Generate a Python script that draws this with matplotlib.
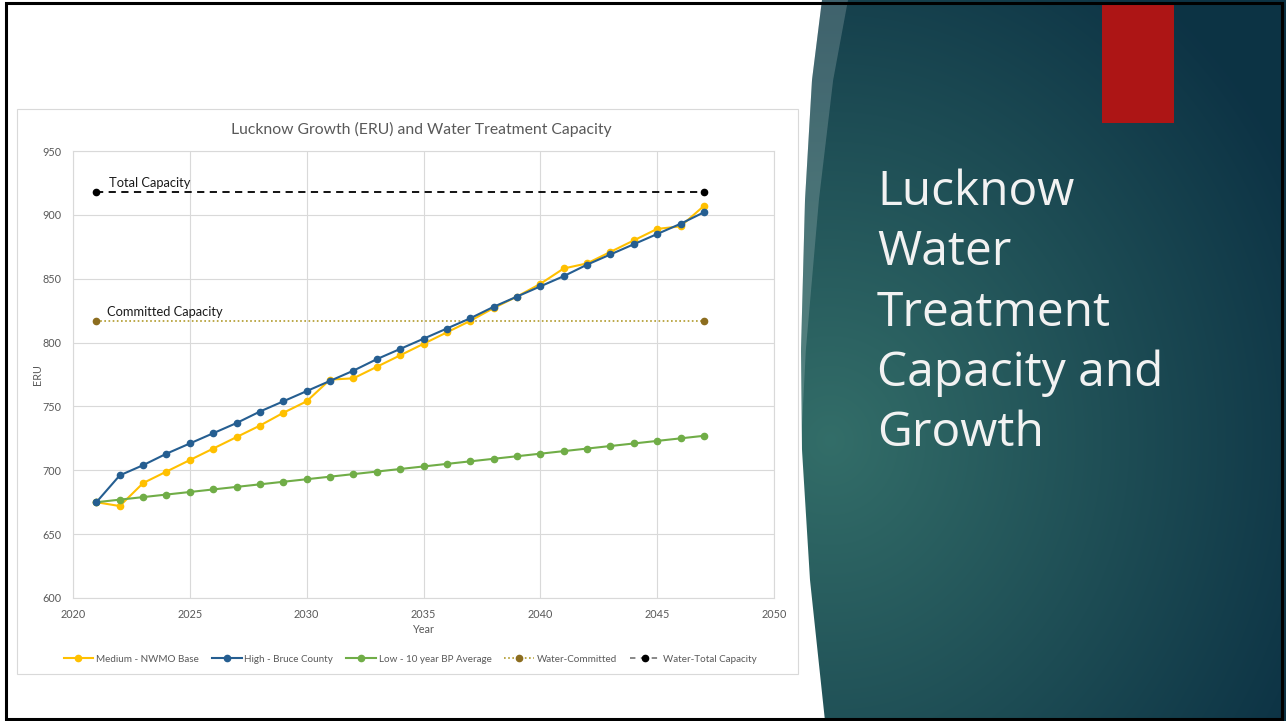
import numpy as np
import matplotlib.pyplot as plt
from matplotlib.patches import Rectangle, Polygon
from matplotlib.lines import Line2D

years = list(range(2021, 2048))
medium = [675, 672, 690, 699, 708, 717, 726, 735, 745, 754, 771, 772, 781, 790,
          799, 808, 817, 827, 836, 846, 858, 862, 871, 880, 889, 891, 907]
high = [675, 696, 704, 713, 721, 729, 737, 746, 754, 762, 770, 778, 787, 795,
        803, 811, 819, 828, 836, 844, 852, 861, 869, 877, 885, 893, 902]
low = [675, 677, 679, 681, 683, 685, 687, 689, 691, 693, 695, 697, 699, 701,
       703, 705, 707, 709, 711, 713, 715, 717, 719, 721, 723, 725, 727]
cap_years = [2021, 2047]
committed = [817, 817]
total = [918, 918]

labels = ['Medium - NWMO Base', 'High - Bruce County', 'Low - 10 year BP Average',
          'Water-Committed', 'Water-Total Capacity']
title_lines = ['Lucknow', 'Water', 'Treatment', 'Capacity and', 'Growth']

W, H = 1286, 721
fig = plt.figure(figsize=(W / 100, H / 100), dpi=100)
fig.patch.set_facecolor('white')

# slide background in pixel coordinates
bg = fig.add_axes([0, 0, 1, 1], zorder=0)
bg.set_xlim(0, W)
bg.set_ylim(H, 0)
bg.axis('off')

yy = np.linspace(0, H, 200)
outer = np.interp(yy, [0, 80, 200, 350, 450, 580, 721], [822, 812, 805, 801, 802, 810, 825])
band = np.clip(26 * (1 - yy / 430), 0, None)
inner = outer + band

# gradient teal panel
gx, gy = np.meshgrid(np.arange(780, W), np.arange(0, H))
d = np.sqrt(((gx - 830) / 1.0) ** 2 + ((gy - 440) / 1.1) ** 2) / 520
d = np.clip(d, 0, 1)
c1 = np.array([0.20, 0.43, 0.41])
c2 = np.array([0.05, 0.20, 0.27])
img = c1 * (1 - d[..., None]) + c2 * d[..., None]
im = bg.imshow(img, extent=[780, W, H, 0], zorder=1, interpolation='bilinear')
panel = Polygon(np.column_stack([np.r_[outer, W, W], np.r_[yy, H, 0]]),
                closed=True, facecolor='none', edgecolor='none')
bg.add_patch(panel)
im.set_clip_path(panel)

light = Polygon(np.column_stack([np.r_[outer, inner[::-1]], np.r_[yy, yy[::-1]]]),
                closed=True, facecolor='white', alpha=0.18, edgecolor='none', zorder=2)
bg.add_patch(light)

bg.add_patch(Rectangle((1102, 4), 72, 119, facecolor='#ad1515', edgecolor='none', zorder=3))
bg.add_patch(Rectangle((17, 109), 781, 565, facecolor='white', edgecolor='#d9d9d9',
                       linewidth=0.8, zorder=3))
bg.add_patch(Rectangle((6, 3), 1276, 716, facecolor='none', edgecolor='black',
                       linewidth=2.2, zorder=5))

for i, line in enumerate(title_lines):
    bg.text(877, 205 + i * 60.3, line, color='#f2f2f2', fontsize=34.5,
            family='Open Sans', va='baseline', ha='left', zorder=4)

bg.text(421, 129, 'Lucknow Growth (ERU) and Water Treatment Capacity', color='#595959',
        fontsize=11.3, family='Lato', ha='center', va='center', zorder=4)

# chart
ax = fig.add_axes([73 / W, 1 - 598 / H, (774 - 73) / W, (598 - 151) / H], zorder=2)
ax.set_facecolor('none')
ax.plot(years, medium, color='#ffc000', lw=1.5, marker='o', ms=4.5, zorder=4)
ax.plot(years, high, color='#255e91', lw=1.5, marker='o', ms=4.5, zorder=5)
ax.plot(years, low, color='#70ad47', lw=1.5, marker='o', ms=4.5, zorder=4)
ax.plot(cap_years, committed, color='#b09a2a', lw=1.2, ls=(0, (1, 1.5)),
        marker='o', ms=4.5, mfc='#8c6d1f', mec='#8c6d1f', zorder=3)
ax.plot(cap_years, total, color='black', lw=1.3, ls=(0, (4, 3)),
        marker='o', ms=4.5, zorder=3)

ax.annotate('Total Capacity', (2021, 918), xytext=(9, 2), textcoords='offset points',
            fontsize=9.3, family='Lato', va='bottom', color='#1a1a1a')
ax.annotate('Committed Capacity', (2021, 817), xytext=(8, 2), textcoords='offset points',
            fontsize=9.3, family='Lato', va='bottom', color='#1a1a1a')

ax.set_xlim(2020, 2050)
ax.set_ylim(600, 950)
ax.set_xticks(range(2020, 2051, 5))
ax.set_yticks(range(600, 951, 50))
ax.grid(True, color='#d9d9d9', lw=0.8)
ax.set_axisbelow(True)
for s in ax.spines.values():
    s.set_color('#d9d9d9')
    s.set_linewidth(0.8)
ax.tick_params(length=0, labelsize=7.8, labelcolor='#595959', pad=8)
for t in ax.get_xticklabels() + ax.get_yticklabels():
    t.set_family('Lato')
ax.set_xlabel('Year', fontsize=7.8, color='#595959', family='Lato', labelpad=3)
ax.set_ylabel('ERU', fontsize=7.8, color='#595959', family='Lato', labelpad=0)

handles = [
    Line2D([], [], color='#ffc000', lw=1.5, marker='o', ms=4.5),
    Line2D([], [], color='#255e91', lw=1.5, marker='o', ms=4.5),
    Line2D([], [], color='#70ad47', lw=1.5, marker='o', ms=4.5),
    Line2D([], [], color='#b09a2a', lw=1.2, ls=(0, (1, 1.5)), marker='o', ms=4.5,
           mfc='#8c6d1f', mec='#8c6d1f'),
    Line2D([], [], color='#7f7f7f', lw=1.3, ls=(0, (3, 3)), marker='o', ms=4.5,
           mfc='black', mec='black'),
]
fig.legend(handles, labels, loc='center', bbox_to_anchor=(410 / W, 1 - 659 / H),
           ncol=5, frameon=False, prop={'family': 'Lato', 'size': 7.1},
           labelcolor='#595959', handlelength=3, columnspacing=1.3, handletextpad=0.3)

fig.savefig('out.png', dpi=100)
